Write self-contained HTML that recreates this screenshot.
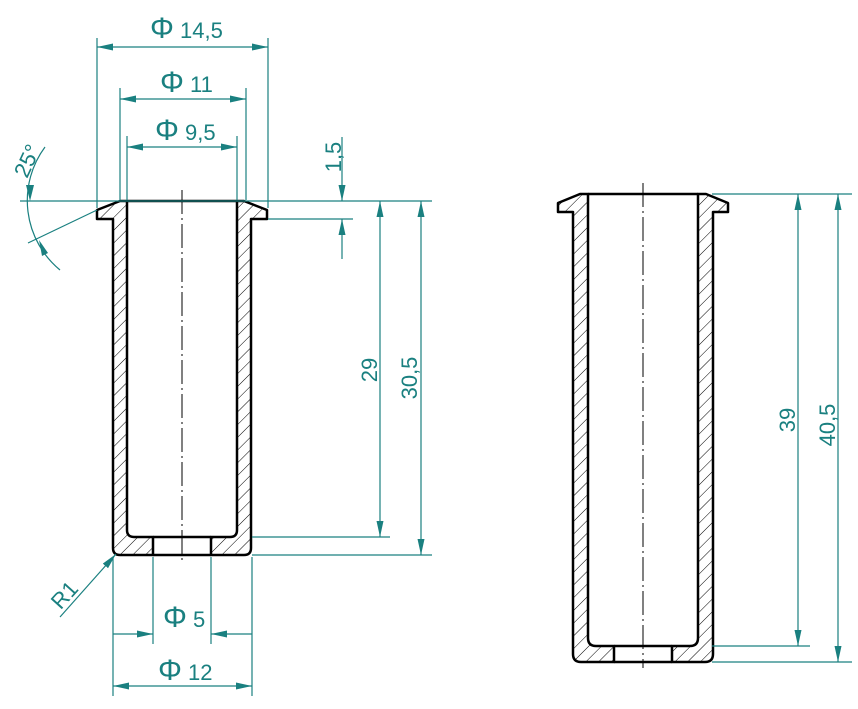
<!DOCTYPE html>
<html><head><meta charset="utf-8"><style>
html,body{margin:0;padding:0;background:#fff;}
svg{display:block;}
text{font-family:"Liberation Sans Narrow","Liberation Sans",sans-serif;fill:#1a8080;font-size:22px;}
.p{font-size:30px;}
</style></head><body>
<svg width="858" height="709" viewBox="0 0 858 709" xmlns="http://www.w3.org/2000/svg">
<defs>
<pattern id="h" patternUnits="userSpaceOnUse" width="9" height="9" patternTransform="rotate(45)">
<line x1="0" y1="0" x2="0" y2="9" stroke="#000" stroke-width="1"/>
</pattern>
<marker id="a" viewBox="0 0 16 8" refX="16" refY="4" markerWidth="16" markerHeight="8" markerUnits="userSpaceOnUse" orient="auto-start-reverse">
<path d="M0,0.5 L16,4 L0,7.5 z" fill="#1a8080"/>
</marker>
</defs>
<g fill="url(#h)" stroke="#000" stroke-width="2.5" stroke-linejoin="round">
<path d="M120,201 L127,201 L127,530 Q127,537 134,537 L153,537 L153,555 L120,555 Q113,555 113,548 L113,219 L97,219 L97,210 Z"/>
<path d="M244,201 L237,201 L237,530 Q237,537 230,537 L211,537 L211,555 L244,555 Q251,555 251,548 L251,219 L267,219 L267,210 Z"/>
<path d="M580,194 L588,194 L588,638 Q588,646 596,646 L614,646 L614,662 L581,662 Q573,662 573,654 L573,212 L558,212 L558,203 Z"/>
<path d="M706,194 L698,194 L698,638 Q698,646 690,646 L672,646 L672,662 L705,662 Q713,662 713,654 L713,212 L728,212 L728,203 Z"/>
</g>
<g stroke="#000" stroke-width="2.5">
<line x1="127" y1="201" x2="237" y2="201"/>
<line x1="153" y1="537" x2="211" y2="537"/>
<line x1="153" y1="555" x2="211" y2="555"/>
<line x1="588" y1="194" x2="698" y2="194"/>
<line x1="614" y1="646" x2="672" y2="646"/>
<line x1="614" y1="662" x2="672" y2="662"/>
</g>
<g stroke="#000" stroke-width="1" stroke-dasharray="24,4,2,4">
<line x1="182" y1="190" x2="182" y2="562"/>
<line x1="643" y1="183" x2="643" y2="668"/>
</g>
<g stroke="#1a8080" stroke-width="1.2" fill="none">
<line x1="97" y1="38" x2="97" y2="208"/>
<line x1="268" y1="38" x2="268" y2="208"/>
<line x1="120" y1="88" x2="120" y2="200"/>
<line x1="246" y1="88" x2="246" y2="200"/>
<line x1="127" y1="136" x2="127" y2="200"/>
<line x1="237" y1="136" x2="237" y2="200"/>
<line x1="20" y1="201" x2="432" y2="201"/>
<line x1="268" y1="219" x2="353" y2="219"/>
<line x1="252" y1="537" x2="390" y2="537"/>
<line x1="252" y1="555" x2="432" y2="555"/>
<line x1="113" y1="557" x2="113" y2="696"/>
<line x1="252" y1="557" x2="252" y2="696"/>
<line x1="153" y1="557" x2="153" y2="644"/>
<line x1="211" y1="557" x2="211" y2="644"/>
<line x1="712" y1="194" x2="852" y2="194"/>
<line x1="712" y1="646" x2="810" y2="646"/>
<line x1="712" y1="662" x2="852" y2="662"/>
<line x1="97" y1="47" x2="268" y2="47" marker-start="url(#a)" marker-end="url(#a)"/>
<line x1="120" y1="99" x2="246" y2="99" marker-start="url(#a)" marker-end="url(#a)"/>
<line x1="127" y1="147" x2="237" y2="147" marker-start="url(#a)" marker-end="url(#a)"/>
<line x1="342" y1="137" x2="342" y2="201" marker-end="url(#a)"/>
<line x1="342" y1="259" x2="342" y2="219" marker-end="url(#a)"/>
<line x1="380" y1="201" x2="380" y2="537" marker-start="url(#a)" marker-end="url(#a)"/>
<line x1="421" y1="201" x2="421" y2="555" marker-start="url(#a)" marker-end="url(#a)"/>
<line x1="113" y1="634" x2="153" y2="634" marker-end="url(#a)"/>
<line x1="252" y1="634" x2="211" y2="634" marker-end="url(#a)"/>
<line x1="113" y1="686" x2="252" y2="686" marker-start="url(#a)" marker-end="url(#a)"/>
<line x1="798" y1="194" x2="798" y2="646" marker-start="url(#a)" marker-end="url(#a)"/>
<line x1="838" y1="194" x2="838" y2="662" marker-start="url(#a)" marker-end="url(#a)"/>
<line x1="60" y1="617" x2="116" y2="554" marker-end="url(#a)"/>
<line x1="97" y1="210" x2="28" y2="243"/>
<path d="M45,147 A90,90 0 0 0 60,270"/>
</g>
<path d="M30,201 L26,185 L34,185 Z" fill="#1a8080"/>
<path d="M39,240 L48,253 L42,256 Z" fill="#1a8080"/>
<text x="150" y="38"><tspan class="p">Φ</tspan> 14,5</text>
<text x="160" y="92"><tspan class="p">Φ</tspan> 11</text>
<text x="155" y="140"><tspan class="p">Φ</tspan> 9,5</text>
<text x="163" y="627"><tspan class="p">Φ</tspan> 5</text>
<text x="158" y="680"><tspan class="p">Φ</tspan> 12</text>
<text transform="translate(341,157) rotate(-90)" text-anchor="middle">1,5</text>
<text transform="translate(377,370) rotate(-90)" text-anchor="middle">29</text>
<text transform="translate(417,378) rotate(-90)" text-anchor="middle">30,5</text>
<text transform="translate(795,420) rotate(-90)" text-anchor="middle">39</text>
<text transform="translate(835,425) rotate(-90)" text-anchor="middle">40,5</text>
<text transform="translate(70,600) rotate(-48)" text-anchor="middle">R1</text>
<text transform="translate(34,164) rotate(-65)" text-anchor="middle">25°</text>
</svg>
</body></html>
